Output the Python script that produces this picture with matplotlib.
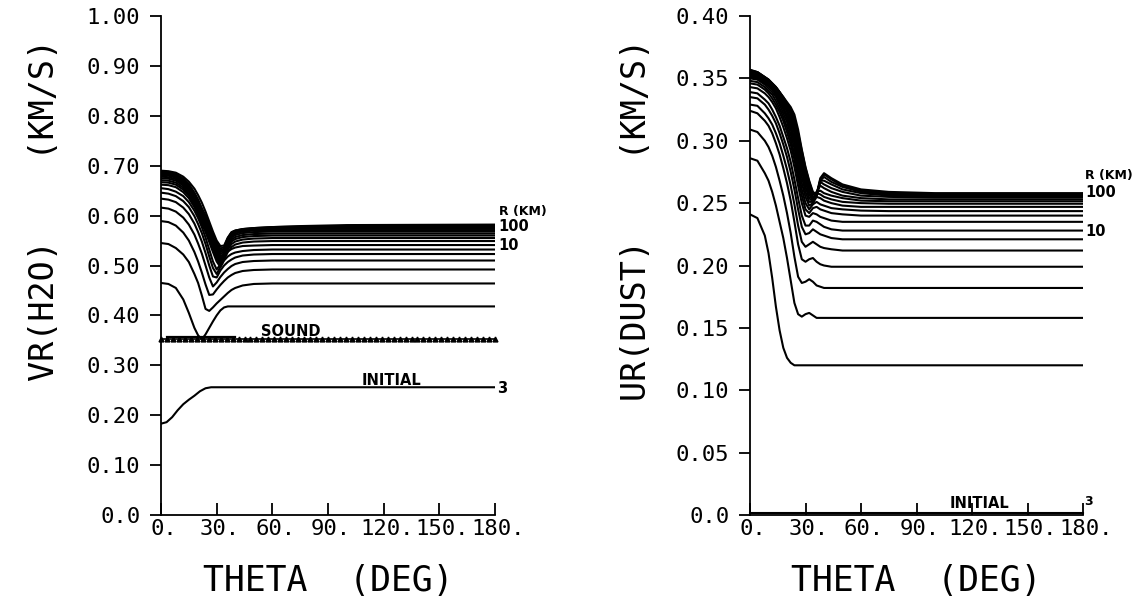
import matplotlib
matplotlib.use("Agg")
import matplotlib.pyplot as plt
from matplotlib.transforms import ScaledTranslation
import numpy as np

# ---- left panel: gas velocity VR(H2O) vs theta, one curve per radius ----
THETA_L = [0, 4, 8, 12, 15, 18, 20, 22, 24, 26, 28, 30, 32, 34, 36, 38, 40, 44, 50, 60, 75, 100, 180]
VR_CURVES = [
    [0.465, 0.463, 0.455, 0.432, 0.405, 0.375, 0.360, 0.352, 0.362, 0.375, 0.388, 0.400, 0.410, 0.416, 0.418, 0.418, 0.418, 0.418, 0.418, 0.418, 0.418, 0.418, 0.418],
    [0.545, 0.543, 0.535, 0.522, 0.507, 0.483, 0.465, 0.440, 0.413, 0.409, 0.416, 0.424, 0.431, 0.438, 0.445, 0.451, 0.455, 0.460, 0.463, 0.464, 0.464, 0.464, 0.464],
    [0.589, 0.587, 0.580, 0.566, 0.550, 0.527, 0.508, 0.486, 0.462, 0.441, 0.442, 0.452, 0.461, 0.469, 0.476, 0.481, 0.485, 0.489, 0.491, 0.492, 0.492, 0.492, 0.492],
    [0.616, 0.614, 0.608, 0.596, 0.582, 0.562, 0.544, 0.524, 0.500, 0.476, 0.458, 0.466, 0.477, 0.486, 0.493, 0.499, 0.503, 0.507, 0.509, 0.510, 0.510, 0.510, 0.510],
    [0.634, 0.632, 0.627, 0.616, 0.603, 0.584, 0.567, 0.548, 0.525, 0.500, 0.478, 0.476, 0.490, 0.500, 0.507, 0.512, 0.516, 0.520, 0.522, 0.523, 0.523, 0.523, 0.523],
    [0.646, 0.644, 0.639, 0.629, 0.617, 0.599, 0.583, 0.565, 0.543, 0.518, 0.495, 0.483, 0.497, 0.510, 0.518, 0.523, 0.526, 0.529, 0.531, 0.532, 0.532, 0.532, 0.532],
    [0.655, 0.653, 0.648, 0.639, 0.627, 0.610, 0.595, 0.577, 0.556, 0.532, 0.508, 0.492, 0.502, 0.518, 0.528, 0.533, 0.536, 0.539, 0.540, 0.541, 0.541, 0.541, 0.541],
    [0.662, 0.661, 0.657, 0.647, 0.635, 0.617, 0.602, 0.584, 0.567, 0.547, 0.527, 0.508, 0.497, 0.512, 0.527, 0.537, 0.542, 0.546, 0.548, 0.549, 0.549, 0.549, 0.549],
    [0.667, 0.666, 0.662, 0.652, 0.640, 0.622, 0.607, 0.589, 0.572, 0.552, 0.532, 0.513, 0.501, 0.514, 0.532, 0.543, 0.548, 0.552, 0.554, 0.555, 0.555, 0.555, 0.555],
    [0.671, 0.670, 0.666, 0.656, 0.644, 0.626, 0.611, 0.593, 0.576, 0.556, 0.537, 0.518, 0.506, 0.517, 0.537, 0.548, 0.553, 0.557, 0.559, 0.560, 0.560, 0.560, 0.560],
    [0.675, 0.674, 0.670, 0.660, 0.649, 0.630, 0.616, 0.597, 0.581, 0.561, 0.541, 0.523, 0.510, 0.519, 0.540, 0.552, 0.557, 0.561, 0.563, 0.564, 0.564, 0.564, 0.564],
    [0.678, 0.677, 0.673, 0.663, 0.652, 0.634, 0.619, 0.601, 0.585, 0.565, 0.545, 0.527, 0.514, 0.522, 0.543, 0.556, 0.561, 0.565, 0.567, 0.568, 0.568, 0.568, 0.568],
    [0.681, 0.680, 0.676, 0.666, 0.655, 0.637, 0.622, 0.604, 0.588, 0.569, 0.549, 0.531, 0.518, 0.525, 0.546, 0.559, 0.564, 0.568, 0.570, 0.571, 0.571, 0.571, 0.571],
    [0.683, 0.682, 0.678, 0.669, 0.657, 0.640, 0.625, 0.607, 0.591, 0.572, 0.553, 0.535, 0.523, 0.528, 0.549, 0.562, 0.567, 0.570, 0.572, 0.573, 0.574, 0.574, 0.574],
    [0.685, 0.684, 0.680, 0.671, 0.660, 0.642, 0.628, 0.610, 0.594, 0.575, 0.556, 0.539, 0.527, 0.531, 0.551, 0.564, 0.568, 0.571, 0.573, 0.575, 0.576, 0.576, 0.576],
    [0.687, 0.686, 0.682, 0.673, 0.662, 0.644, 0.630, 0.613, 0.597, 0.578, 0.559, 0.542, 0.530, 0.534, 0.553, 0.565, 0.569, 0.572, 0.574, 0.576, 0.577, 0.578, 0.578],
    [0.688, 0.687, 0.683, 0.674, 0.663, 0.646, 0.632, 0.615, 0.600, 0.581, 0.562, 0.545, 0.534, 0.537, 0.555, 0.566, 0.570, 0.573, 0.575, 0.577, 0.578, 0.579, 0.580],
    [0.690, 0.689, 0.686, 0.678, 0.668, 0.654, 0.641, 0.626, 0.608, 0.588, 0.568, 0.550, 0.539, 0.540, 0.556, 0.567, 0.570, 0.573, 0.575, 0.577, 0.579, 0.581, 0.582],
]
VR_INIT_THETA = [0, 3, 6, 9, 12, 15, 18, 21, 24, 27, 180]
VR_INIT = [0.183, 0.186, 0.196, 0.210, 0.222, 0.231, 0.239, 0.248, 0.254, 0.256, 0.256]
SOUND_SPEED = 0.352

# ---- right panel: dust velocity UR(DUST) ----
THETA_R = [0, 4, 8, 10, 12, 14, 16, 18, 20, 22, 24, 26, 28, 30, 32, 34, 36, 38, 40, 44, 50, 60, 75, 100, 180]
UR_CURVES = [
    [0.241, 0.238, 0.224, 0.210, 0.190, 0.167, 0.148, 0.134, 0.126, 0.122, 0.120, 0.120, 0.120, 0.120, 0.120, 0.120, 0.120, 0.120, 0.120, 0.120, 0.120, 0.120, 0.120, 0.120, 0.120],
    [0.286, 0.284, 0.274, 0.268, 0.259, 0.248, 0.235, 0.222, 0.206, 0.188, 0.170, 0.161, 0.159, 0.161, 0.162, 0.160, 0.158, 0.158, 0.158, 0.158, 0.158, 0.158, 0.158, 0.158, 0.158],
    [0.309, 0.307, 0.300, 0.295, 0.288, 0.279, 0.268, 0.256, 0.242, 0.226, 0.207, 0.191, 0.186, 0.187, 0.189, 0.187, 0.184, 0.183, 0.182, 0.182, 0.182, 0.182, 0.182, 0.182, 0.182],
    [0.324, 0.322, 0.316, 0.312, 0.306, 0.298, 0.289, 0.278, 0.266, 0.252, 0.235, 0.217, 0.205, 0.203, 0.205, 0.206, 0.203, 0.201, 0.200, 0.199, 0.199, 0.199, 0.199, 0.199, 0.199],
    [0.329, 0.328, 0.322, 0.318, 0.313, 0.306, 0.298, 0.288, 0.277, 0.264, 0.249, 0.232, 0.219, 0.215, 0.217, 0.219, 0.217, 0.215, 0.214, 0.213, 0.212, 0.212, 0.212, 0.212, 0.212],
    [0.335, 0.334, 0.329, 0.325, 0.320, 0.314, 0.306, 0.297, 0.287, 0.275, 0.261, 0.245, 0.231, 0.225, 0.226, 0.229, 0.227, 0.225, 0.224, 0.222, 0.221, 0.221, 0.221, 0.221, 0.221],
    [0.339, 0.338, 0.333, 0.330, 0.325, 0.319, 0.312, 0.303, 0.294, 0.283, 0.269, 0.254, 0.240, 0.232, 0.232, 0.236, 0.235, 0.233, 0.231, 0.229, 0.228, 0.228, 0.228, 0.228, 0.228],
    [0.343, 0.342, 0.338, 0.335, 0.331, 0.326, 0.319, 0.311, 0.302, 0.292, 0.279, 0.264, 0.250, 0.240, 0.239, 0.242, 0.241, 0.239, 0.238, 0.236, 0.235, 0.235, 0.235, 0.235, 0.235],
    [0.346, 0.345, 0.341, 0.338, 0.334, 0.329, 0.323, 0.316, 0.307, 0.297, 0.285, 0.270, 0.256, 0.245, 0.242, 0.246, 0.247, 0.245, 0.244, 0.242, 0.241, 0.240, 0.240, 0.240, 0.240],
    [0.348, 0.347, 0.343, 0.340, 0.337, 0.332, 0.326, 0.319, 0.311, 0.301, 0.289, 0.275, 0.261, 0.250, 0.245, 0.249, 0.251, 0.249, 0.248, 0.246, 0.245, 0.244, 0.2436, 0.2436, 0.2436],
    [0.350, 0.349, 0.345, 0.342, 0.339, 0.335, 0.329, 0.322, 0.315, 0.305, 0.294, 0.280, 0.266, 0.255, 0.248, 0.250, 0.255, 0.254, 0.252, 0.250, 0.248, 0.247, 0.247, 0.247, 0.247],
    [0.351, 0.350, 0.346, 0.344, 0.341, 0.337, 0.331, 0.325, 0.318, 0.309, 0.298, 0.285, 0.271, 0.259, 0.251, 0.251, 0.258, 0.257, 0.255, 0.253, 0.251, 0.250, 0.2495, 0.2495, 0.2495],
    [0.352, 0.351, 0.347, 0.345, 0.342, 0.338, 0.333, 0.327, 0.320, 0.312, 0.302, 0.289, 0.276, 0.263, 0.254, 0.251, 0.259, 0.260, 0.258, 0.256, 0.254, 0.252, 0.2515, 0.2515, 0.2515],
    [0.353, 0.352, 0.348, 0.346, 0.343, 0.339, 0.335, 0.329, 0.323, 0.315, 0.306, 0.293, 0.280, 0.267, 0.257, 0.252, 0.259, 0.264, 0.262, 0.259, 0.256, 0.254, 0.253, 0.253, 0.253],
    [0.354, 0.353, 0.349, 0.347, 0.344, 0.340, 0.336, 0.331, 0.325, 0.318, 0.309, 0.297, 0.284, 0.271, 0.260, 0.253, 0.258, 0.267, 0.265, 0.262, 0.259, 0.256, 0.255, 0.2545, 0.2545],
    [0.355, 0.354, 0.350, 0.348, 0.345, 0.342, 0.338, 0.333, 0.327, 0.321, 0.312, 0.301, 0.288, 0.274, 0.263, 0.255, 0.256, 0.268, 0.268, 0.265, 0.261, 0.258, 0.256, 0.2555, 0.2555],
    [0.356, 0.355, 0.351, 0.349, 0.346, 0.343, 0.339, 0.334, 0.329, 0.323, 0.315, 0.304, 0.290, 0.276, 0.265, 0.257, 0.256, 0.268, 0.271, 0.267, 0.263, 0.259, 0.257, 0.2565, 0.2565],
    [0.3565, 0.355, 0.351, 0.349, 0.346, 0.343, 0.339, 0.335, 0.330, 0.325, 0.318, 0.306, 0.292, 0.278, 0.267, 0.258, 0.256, 0.269, 0.273, 0.269, 0.264, 0.260, 0.258, 0.2575, 0.2575],
    [0.357, 0.355, 0.351, 0.349, 0.346, 0.343, 0.339, 0.335, 0.331, 0.327, 0.321, 0.309, 0.293, 0.279, 0.268, 0.259, 0.257, 0.270, 0.274, 0.270, 0.265, 0.261, 0.259, 0.258, 0.258],
]
UR_INIT_THETA = [0, 180]
UR_INIT = [0.002, 0.002]

X_TICKS = [0, 30, 60, 90, 120, 150, 180]
X_LABELS = ["0.", "30.", "60.", "90.", "120.", "150.", "180."]
YL_TICKS = [0.0, 0.1, 0.2, 0.3, 0.4, 0.5, 0.6, 0.7, 0.8, 0.9, 1.0]
YL_LABELS = ["0.0", "0.10", "0.20", "0.30", "0.40", "0.50", "0.60", "0.70", "0.80", "0.90", "1.00"]
YR_TICKS = [0.0, 0.05, 0.10, 0.15, 0.20, 0.25, 0.30, 0.35, 0.40]
YR_LABELS = ["0.0", "0.05", "0.10", "0.15", "0.20", "0.25", "0.30", "0.35", "0.40"]

MONO = "DejaVu Sans Mono"
LW = 1.5

fig = plt.figure(figsize=(11.39, 6.09), dpi=100)
axL = fig.add_axes([161 / 1139, 94 / 609, 334 / 1139, 499 / 609])
axR = fig.add_axes([750 / 1139, 94 / 609, 333 / 1139, 499 / 609])


def style_axis(ax, ymax, yticks, ylabels):
    ax.set_xlim(0, 180)
    ax.set_ylim(0, ymax)
    for s in ["top", "right"]:
        ax.spines[s].set_visible(False)
    for s in ["left", "bottom"]:
        ax.spines[s].set_linewidth(1.3)
    ax.set_xticks(X_TICKS)
    ax.set_xticklabels(X_LABELS, fontfamily=MONO, fontsize=16)
    ax.set_yticks(yticks)
    ax.set_yticklabels(ylabels, fontfamily=MONO, fontsize=16)
    ax.tick_params(axis="x", direction="in", length=9, width=1.3, pad=3)
    ax.tick_params(axis="y", direction="out", length=8, width=1.3, pad=7)
    # digits roughly centred on the tick, trailing period hangs to the right
    shift = ScaledTranslation(3 / 100, 0, fig.dpi_scale_trans)
    for t in ax.get_xticklabels():
        t.set_transform(t.get_transform() + shift)


# left panel
style_axis(axL, 1.0, YL_TICKS, YL_LABELS)
for vals in VR_CURVES:
    axL.plot(THETA_L, vals, color="black", lw=LW)
axL.plot(VR_INIT_THETA, VR_INIT, color="black", lw=LW)
theta_s = np.linspace(0, 180, 57)
axL.plot(theta_s, np.full_like(theta_s, SOUND_SPEED), color="black", lw=1.2,
         marker="^", markersize=3.5, clip_on=False)
axL.plot([3, 40], [SOUND_SPEED + 0.004, SOUND_SPEED + 0.004], color="black", lw=1.6)

lab = dict(fontsize=10.5, fontweight="bold", color="black", fontfamily="DejaVu Sans")
small = dict(fontsize=9, fontweight="bold", color="black", fontfamily="DejaVu Sans")
axL.text(182, 0.608, "R (KM)", ha="left", va="center", **small)
axL.text(182, 0.578, "100", ha="left", va="center", **lab)
axL.text(182, 0.541, "10", ha="left", va="center", **lab)
axL.text(54, 0.367, "SOUND", ha="left", va="center", **lab)
axL.text(108, 0.269, "INITIAL", ha="left", va="center", **lab)
axL.text(181, 0.254, "3", ha="left", va="center", **lab)
axL.set_xlabel("THETA  (DEG)", fontfamily=MONO, fontsize=25, labelpad=18)
fig.text(45 / 1139, 1 - 210 / 609, "VR(H2O)    (KM/S)", rotation=90, ha="center",
         va="center", fontfamily=MONO, fontsize=24)

# right panel
style_axis(axR, 0.40, YR_TICKS, YR_LABELS)
for vals in UR_CURVES:
    axR.plot(THETA_R, vals, color="black", lw=LW)
axR.plot(UR_INIT_THETA, UR_INIT, color="black", lw=LW, clip_on=False)
axR.text(181, 0.272, "R (KM)", ha="left", va="center", **small)
axR.text(181, 0.2585, "100", ha="left", va="center", **lab)
axR.text(181, 0.227, "10", ha="left", va="center", **lab)
axR.text(108, 0.009, "INITIAL", ha="left", va="center", **lab)
axR.text(180.5, 0.011, "3", ha="left", va="center", **small)
axR.set_xlabel("THETA  (DEG)", fontfamily=MONO, fontsize=25, labelpad=18)
fig.text(636 / 1139, 1 - 220 / 609, "UR(DUST)    (KM/S)", rotation=90, ha="center",
         va="center", fontfamily=MONO, fontsize=24)

fig.savefig("out.png", dpi=100, facecolor="white")
